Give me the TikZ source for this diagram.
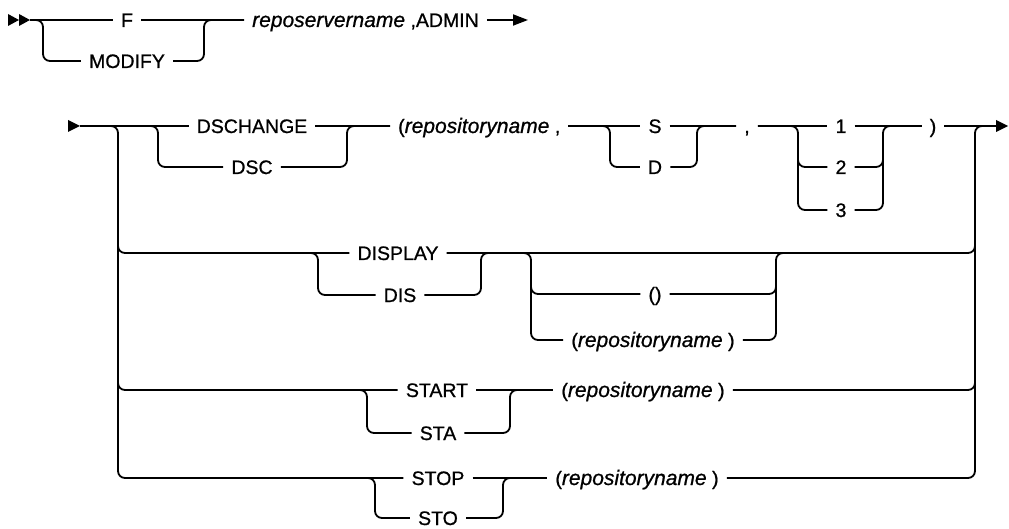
\documentclass[tikz,border=0pt]{standalone}
\usepackage{fontspec}
\setmainfont{Liberation Sans}[FakeBold=0.8]
\usetikzlibrary{arrows.meta,calc}
\newcommand{\kwfont}{\fontsize{19.5}{22}\selectfont}
\newcommand{\varit}[1]{{\fontsize{21}{24}\selectfont\itshape #1}}
\tikzset{
  rail/.style={line width=1.8pt,rounded corners=7pt},
  rail-tip/.style={-{Triangle[length=15pt,width=11pt]},line width=1.8pt},
  kw/.style={inner xsep=8pt,inner ysep=0pt,text height=14pt,
    text depth=0pt,font=\kwfont},
}
\begin{document}
\begin{tikzpicture}[x=1pt,y=-1pt]
  \useasboundingbox (0,0) rectangle (1009,529);

  % first line: command name
  \coordinate (r1s) at (30,20);
  \coordinate (r1e) at (528,20);
  \coordinate (m1) at (43,20);
  \coordinate (m2) at (204,20);
  \node[kw] (f) at (127,20) {F};
  \node[kw] (modify) at (127,61) {MODIFY};
  \node[kw,anchor=west] (admin) at (244,20) {\varit{reposervername} ,ADMIN};
  \fill (r1s) -- ++(-11,-6) -- ++(0,12) -- cycle;
  \fill ($(r1s)+(-11,0)$) -- ++(-11,-6) -- ++(0,12) -- cycle;
  \draw[rail] (r1s) -- (f.west);
  \draw[rail] (f.east) -- (admin.west);
  \draw[rail] (r1s) -| (m1 |- modify) -- (modify.west);
  \draw[rail] (modify.east) -| (m2) -- (admin.west);
  \draw[rail-tip] (admin.east) -- (r1e);

  % second line: main rail
  \coordinate (r2s) at (80,126);
  \coordinate (r2e) at (996,126);
  \coordinate (vL) at (118,126);
  \coordinate (vR) at (975,126);
  \coordinate (dscL) at (158,126);
  \coordinate (dscR) at (347,126);
  \coordinate (sdL) at (610,126);
  \coordinate (sdR) at (697,126);
  \coordinate (nL) at (798,126);
  \coordinate (nR) at (883,126);
  \node[kw] (dschange) at (252,126) {DSCHANGE};
  \node[kw] (dsc) at (252,167) {DSC};
  \node[kw,anchor=west] (repo) at (390,126) {(\varit{repositoryname} ,};
  \node[kw] (s) at (655,126) {S};
  \node[kw] (d) at (655,167) {D};
  \node[kw] (comma) at (747,126) {,};
  \node[kw] (one) at (841,126) {1};
  \node[kw] (two) at (841,167) {2};
  \node[kw] (three) at (841,210) {3};
  \node[kw] (close) at (933,126) {)};
  \fill (r2s) -- ++(-12,-6) -- ++(0,12) -- cycle;
  \fill ($(r2e)+(0,-6)$) -- ++(12,6) -- ++(-12,6) -- cycle;
  \draw[rail] (r2s) -- (dschange.west);
  \draw[rail] (dschange.east) -- (repo.west);
  \draw[rail] (repo.east) -- (s.west);
  \draw[rail] (s.east) -- (comma.west);
  \draw[rail] (comma.east) -- (one.west);
  \draw[rail] (one.east) -- (close.west);
  \draw[rail] (close.east) -- (r2e);
  \draw[rail] (r2s) -| (dscL |- dsc) -- (dsc.west);
  \draw[rail] (dsc.east) -| (dscR) -- (repo.west);
  \draw[rail] (repo.east) -| (sdL |- d) -- (d.west);
  \draw[rail] (d.east) -| (sdR) -- (comma.west);
  \draw[rail] (comma.east) -| (nL |- three) -- (three.west);
  \draw[rail] ($(nL)!.5!(nL |- two)$) |- (two.west);
  \draw[rail] (three.east) -| (nR) -- (close.west);
  \draw[rail] (two.east) -| ($(nR)!.5!(nR |- two)$);

  % DISPLAY
  \coordinate (disL) at (318,253);
  \coordinate (disR) at (481,253);
  \coordinate (optL) at (531,253);
  \coordinate (optR) at (776,253);
  \node[kw] (display) at (398,253) {DISPLAY};
  \node[kw] (dis) at (400,295) {DIS};
  \node[kw] (empty) at (655,294) {()};
  \node[kw] (disrepo) at (653,340) {(\varit{repositoryname} )};
  \draw[rail] ($(vL |- display)+(0,-20)$) |- (display.west);
  \draw[rail] (display.east) -| ($(vR |- display)+(0,-20)$);
  \draw[rail] ($(disL)+(-12,0)$) -| (disL |- dis) -- (dis.west);
  \draw[rail] (dis.east) -| (disR) -- ($(disR)+(12,0)$);
  \draw[rail] ($(optL)+(-12,0)$) -| (optL |- disrepo) -- (disrepo.west);
  \draw[rail] ($(optL)!.5!(optL |- empty)$) |- (empty.west);
  \draw[rail] (disrepo.east) -| (optR) -- ($(optR)+(12,0)$);
  \draw[rail] (empty.east) -| ($(optR)!.5!(optR |- empty)$);

  % START
  \coordinate (staL) at (367,390);
  \coordinate (staR) at (510,390);
  \node[kw] (start) at (437,390) {START};
  \node[kw] (sta) at (438,433) {STA};
  \node[kw] (startrepo) at (643,390) {(\varit{repositoryname} )};
  \draw[rail] ($(vL |- start)+(0,-20)$) |- (start.west);
  \draw[rail] (start.east) -- (startrepo.west);
  \draw[rail] (startrepo.east) -| ($(vR |- start)+(0,-20)$);
  \draw[rail] ($(staL)+(-12,0)$) -| (staL |- sta) -- (sta.west);
  \draw[rail] (sta.east) -| (staR) -- ($(staR)+(12,0)$);

  % STOP
  \coordinate (stoL) at (375,478);
  \coordinate (stoR) at (503,478);
  \node[kw] (stop) at (438,478) {STOP};
  \node[kw] (sto) at (438,518) {STO};
  \node[kw] (stoprepo) at (637,478) {(\varit{repositoryname} )};
  \draw[rail] (r2s) -| (vL |- stop) -- (stop.west);
  \draw[rail] (stop.east) -- (stoprepo.west);
  \draw[rail] (stoprepo.east) -| (vR) -- (r2e);
  \draw[rail] ($(stoL)+(-12,0)$) -| (stoL |- sto) -- (sto.west);
  \draw[rail] (sto.east) -| (stoR) -- ($(stoR)+(12,0)$);
\end{tikzpicture}
\end{document}
